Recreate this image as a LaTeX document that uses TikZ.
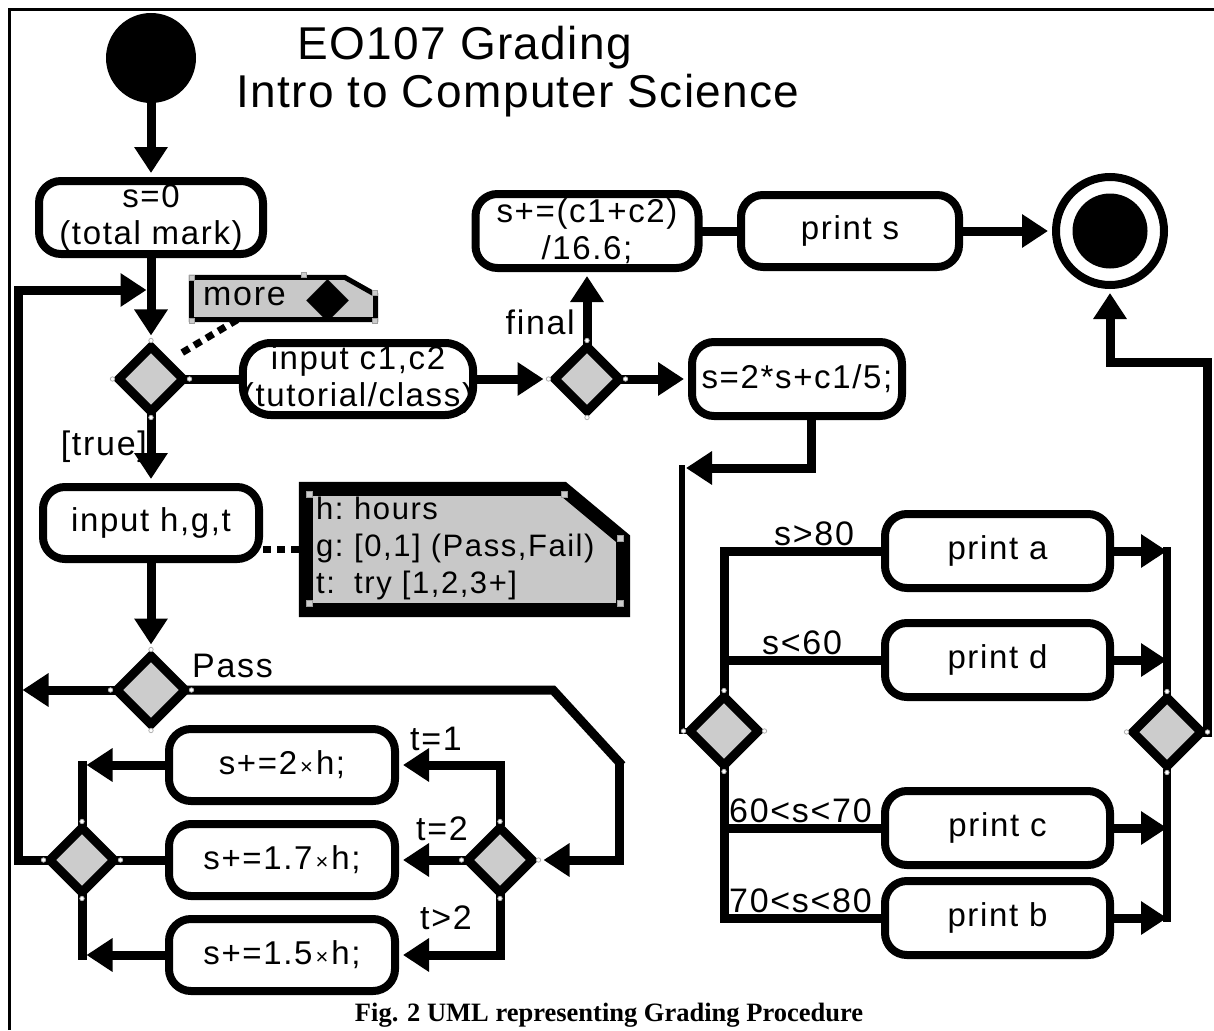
\documentclass[tikz,border=0pt]{standalone}
\usepackage{fontspec}
\setmainfont{Liberation Sans}[LetterSpace=5]
\newfontfamily\titlefont{Liberation Sans}[LetterSpace=3]
\newfontfamily\capfont{Liberation Serif}
\newfontfamily\symfont{DejaVu Sans}
\usetikzlibrary{arrows.meta,shapes.geometric}
\pgfdeclarelayer{background}
\pgfsetlayers{background,main}
\definecolor{decgray}{HTML}{CCCCCC}
\definecolor{notegray}{HTML}{C8C8C8}
\newcommand\lbl{\fontsize{33}{37}\selectfont}
\newcommand\glbl{\fontsize{34}{38}\selectfont}
\newcommand\tm{{\fontsize{22}{22}\selectfont\hspace{3pt}×\hspace{3pt}}}

\begin{document}
\begin{tikzpicture}[x=1pt,y=-1pt,
  >={Triangle[length=26pt,width=32pt]},
  conn/.style={line width=9pt,line join=miter,line cap=rect},
  arr/.style={conn,->,shorten >=4pt},
  thinconn/.style={line width=6pt,line cap=rect},
  dots/.style={line width=7pt,dash pattern=on 8pt off 6pt},
  actbox/.style={draw,line width=8pt,rounded corners=22pt,fill=white,inner sep=0pt,
    align=center,font=\lbl,minimum width=226pt,minimum height=72pt},
  decision/.style={diamond,draw,line width=9pt,fill=decgray,inner sep=0pt,
    minimum width=68pt,minimum height=68pt},
  notebox/.style={inner sep=0pt},
  notepath/.style={draw,fill=notegray,line join=miter},
  lab/.style={font=\glbl,inner sep=0pt},
  handle/.style={fill=white,draw=gray!60,line width=0.8pt},
  nhandle/.style={fill=gray!40,draw=gray!75,line width=0.6pt},
]
\useasboundingbox (0,0) rectangle (1214,1030);

% frame
\draw[line width=3pt] (9.5,1030) -- (9.5,9.5) -- (1214,9.5);

% title
\node[anchor=base west,inner sep=0pt,font=\titlefont\fontsize{46}{50}\selectfont] (t1) at (297,60) {EO107 Grading};
\node[anchor=base west,inner sep=0pt,font=\titlefont\fontsize{46}{50}\selectfont] (t2) at (236,107) {Intro to Computer Science};

% initial and final states
\node[circle,fill=black,minimum size=90pt,inner sep=0pt] (start) at (151,58) {};
\node[circle,draw,line width=8pt,minimum size=108pt,inner sep=0pt] (fin) at (1110,231) {};
\node[circle,fill=black,minimum size=75pt,inner sep=0pt] (finDot) at (fin) {};

% actions
\node[actbox,minimum width=224pt,minimum height=73pt] (s0) at (151,217.5) {s=0\\(total mark)};
\node[actbox,minimum width=227pt,rounded corners=28pt] (inC) at (358,379) {input c1,c2\\(tutorial/class)};
\node[actbox,minimum width=223pt,minimum height=74pt] (sfin) at (587,231) {s+=(c1+c2)\\/16.6;};
\node[actbox,minimum width=218pt] (prs) at (850,231) {print s};
\node[actbox,minimum width=210pt,minimum height=74pt] (s2) at (797,379) {s=2*s+c1/5;};
\node[actbox,minimum width=216pt] (inH) at (151,523) {input h,g,t};
\node[actbox] (b2h) at (282,765) {s+=2\tm h;};
\node[actbox] (b17) at (282,860) {s+=1.7\tm h;};
\node[actbox] (b15) at (282,955) {s+=1.5\tm h;};
\node[actbox,minimum width=225pt,minimum height=74pt] (pa) at (997.5,551) {print a};
\node[actbox,minimum width=225pt,minimum height=74pt] (pd) at (997.5,660) {print d};
\node[actbox,minimum width=225pt,minimum height=74pt] (pc) at (997.5,828) {print c};
\node[actbox,minimum width=225pt,minimum height=74pt] (pb) at (997.5,918) {print b};

% decisions
\node[decision] (d1) at (151,379) {};
\node[decision] (d2) at (587,379) {};
\node[decision,minimum width=72pt,minimum height=72pt] (dP) at (151,690) {};
\node[decision] (dT) at (500,860) {};
\node[decision] (dM) at (82,860) {};
\node[decision,minimum width=72pt,minimum height=72pt] (dL) at (724,731) {};
\node[decision,minimum width=72pt,minimum height=72pt] (dR) at (1167,732) {};

% notes
\node[notebox,minimum width=184pt,minimum height=42pt] (mnote) at (283.5,298.5) {};
\draw[notepath,line width=5pt] (mnote.south west) -- (mnote.north west)
  -- ([xshift=-31pt]mnote.north east) -- ([yshift=-17.5pt]mnote.north east)
  -- (mnote.south east) -- cycle;
\node[lab,anchor=west] (mtext) at (203,297) {more};
\node[inner sep=0pt,font=\symfont\fontsize{56}{56}\selectfont] (msym) at (328,301) {◆};

\node[notebox,minimum width=317pt,minimum height=121pt] (hnote) at (464.5,549.5) {};
\draw[notepath,line width=14pt] (hnote.south west) -- (hnote.north west)
  -- ([xshift=-60pt]hnote.north east) -- ([yshift=-50pt]hnote.north east)
  -- (hnote.south east) -- cycle;
\node[lab,anchor=west,align=left,font=\fontsize{31}{37}\selectfont] (htext) at (316,548)
  {\makebox[38pt][l]{h:}hours\\\makebox[38pt][l]{g:}[0,1] (Pass,Fail)\\\makebox[38pt][l]{t:}try [1,2,3+]};

% selection handles
\foreach \d in {d1,d2,dP,dT,dM,dL,dR}{
  \foreach \a in {north,south,east,west}{
    \fill[handle] (\d.\a) circle (2.2pt);
  }
}
\foreach \p in {(192,278),(192,321),(375,321),(375,293),(304,275)}{
  \filldraw[nhandle] \p ++(-2.5,-2.5) rectangle ++(5,5);
}
\foreach \p in {(309,494),(309,603),(620,603),(620,538),(564,494)}{
  \filldraw[nhandle] \p ++(-3,-3) rectangle ++(6,6);
}

% labels
\node[lab,anchor=base east] (ltrue) at (147,455) {[true]};
\node[lab,anchor=base east] (lfinal) at (575,334) {final};
\node[lab,anchor=base west] (lpass) at (192,677) {Pass};
\node[lab,anchor=base west] (lt1) at (410,750) {t=1};
\node[lab,anchor=base west] (lt2) at (416,840) {t=2};
\node[lab,anchor=base west] (lt3) at (420,929) {t>2};
\node[lab,anchor=base west] (la) at (774,545) {s>80};
\node[lab,anchor=base west] (ld) at (762,654) {s<60};
\node[lab,anchor=base west] (lc) at (729,822) {60<s<70};
\node[lab,anchor=base west] (lb) at (729,912) {70<s<80};

% caption
\node[anchor=base,inner sep=0pt,font=\capfont\bfseries\fontsize{26.5}{30}\selectfont] (cap) at (609,1021)
  {Fig. 2 UML representing Grading Procedure};

% connectors
\coordinate (lpT) at (18,290);
\coordinate (sw1) at (553,690);
\coordinate (sw2) at (619,762);
\coordinate (sw3) at (619,767);
\coordinate (jL) at (682,468);
\coordinate (rTop) at (1204,362);
\begin{pgfonlayer}{background}
  \fill[white] (0,0) rectangle (1214,1030);
  \draw[arr] (start) -- (s0);
  \draw[arr,shorten >=5pt] (s0) -- (d1);
  \draw[arr,shorten >=4.5pt] (dM.west) -| (lpT) -- (lpT -| d1);
  \draw[conn] (d1) -- (inC);
  \draw[arr,shorten >=5pt] (inC) -- (d2);
  \draw[arr] (d2) -- (sfin);
  \draw[arr] (d2) -- (s2);
  \draw[conn] (sfin) -- (prs);
  \draw[arr] (prs) -- (fin);
  \draw[arr] (dR.east) -- (dR.east |- rTop) -- (rTop -| fin.south) -- (fin.south);
  \draw[dots,shorten <=14pt] (d1.north east) -- ([xshift=46pt]mnote.south west);
  \draw[arr] (d1) -- (inH);
  \draw[dots] (inH.east |- hnote.west) -- (hnote.west);
  \draw[arr,shorten >=5pt] (inH) -- (dP);
  \draw[arr,shorten >=4.5pt] (dP.west) -- (dP.west -| lpT);
  \draw[conn] (dP.east) -- (sw1) -- (sw2);
  \draw[arr,shorten >=5pt] (sw3) |- (dT.east);
  \draw[arr] (dT.north) |- (b2h.east);
  \draw[arr] (dT.west) -- (b17.east);
  \draw[arr] (dT.south) |- (b15.east);
  \draw[arr,shorten >=4.5pt] (b2h.west) -- (b2h.west -| dM.north);
  \draw[arr,shorten >=4.5pt] (b15.west) -- (b15.west -| dM.south);
  \draw[conn] (dM.north) -- (dM.north |- b2h.west);
  \draw[conn] (dM.south) -- (dM.south |- b15.west);
  \draw[conn] (b17) -- (dM);
  \draw[arr] ([xshift=14pt]s2.south) |- (jL);
  \draw[thinconn] (jL) |- (dL.west);
  \draw[conn] (dL.north) -- (dL.north |- pa.west) -- (pa.west);
  \draw[conn] (dL.north |- pd.west) -- (pd.west);
  \draw[conn] (dL.south) -- (dL.south |- pb.west) -- (pb.west);
  \draw[conn] (dL.south |- pc.west) -- (pc.west);
  \draw[conn,line width=8pt] (dR.north |- pa.east) -- (dR.north);
  \draw[conn,line width=8pt] (dR.south) -- (dR.south |- pb.east);
  \draw[conn,->] (pa.east) -- (pa.east -| dR.north);
  \draw[conn,->] (pd.east) -- (pd.east -| dR.north);
  \draw[conn,->] (pc.east) -- (pc.east -| dR.south);
  \draw[conn,->] (pb.east) -- (pb.east -| dR.south);
\end{pgfonlayer}
\end{tikzpicture}
\end{document}
